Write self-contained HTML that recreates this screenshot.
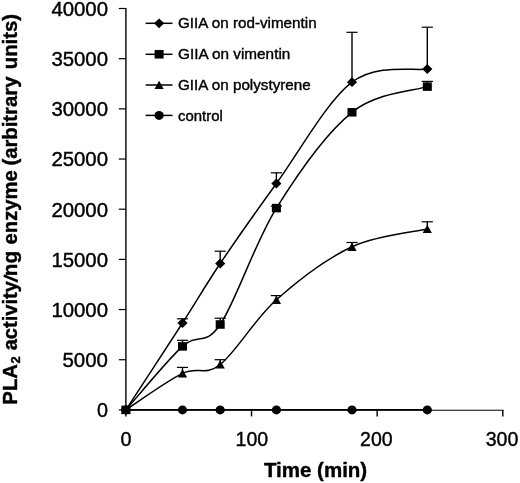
<!DOCTYPE html>
<html lang="en"><head><meta charset="utf-8"><title>PLA2 activity</title>
<style>html,body{margin:0;padding:0;background:#fff}svg{display:block}</style></head>
<body>
<svg width="520" height="483" viewBox="0 0 520 483">
<rect width="520" height="483" fill="#fff"/>
<g stroke="#000" stroke-width="1.40" fill="none">
<path d="M125.90,8.00 V410.40"/>
<path d="M125.90,409.90 V416.40"/>
<path d="M251.53,409.90 V416.40"/>
<path d="M377.17,409.90 V416.40"/>
<path d="M502.80,409.90 V416.40"/>
<path d="M182.50,323.00 V318.80"/>
<path d="M220.20,263.50 V251.20"/>
<path d="M276.40,183.50 V172.80"/>
<path d="M352.00,82.20 V32.30"/>
<path d="M427.30,69.00 V27.20"/>
<path d="M182.50,346.40 V340.30"/>
<path d="M220.20,324.50 V318.20"/>
<path d="M276.40,208.10 V206.20"/>
<path d="M427.30,86.60 V81.40"/>
<path d="M182.50,373.40 V367.40"/>
<path d="M220.20,364.50 V359.70"/>
<path d="M276.40,299.80 V295.60"/>
<path d="M352.00,246.80 V242.50"/>
<path d="M427.30,229.00 V221.80"/>
</g>
<g stroke="#000" stroke-width="1.20" fill="none">
<path stroke-width="1.1" d="M125.90,410.20 H503.50"/>
<path d="M118.80,409.90 H125.90"/>
<path d="M118.80,359.72 H125.90"/>
<path d="M118.80,309.55 H125.90"/>
<path d="M118.80,259.38 H125.90"/>
<path d="M118.80,209.20 H125.90"/>
<path d="M118.80,159.03 H125.90"/>
<path d="M118.80,108.85 H125.90"/>
<path d="M118.80,58.68 H125.90"/>
<path d="M118.80,8.50 H125.90"/>
<path d="M176.90,318.80 H188.10"/>
<path d="M214.60,251.20 H225.80"/>
<path d="M270.80,172.80 H282.00"/>
<path d="M346.40,32.30 H357.60"/>
<path d="M421.70,27.20 H432.90"/>
<path d="M176.90,340.30 H188.10"/>
<path d="M214.60,318.20 H225.80"/>
<path d="M270.80,206.20 H282.00"/>
<path d="M421.70,81.40 H432.90"/>
<path d="M176.90,367.40 H188.10"/>
<path d="M214.60,359.70 H225.80"/>
<path d="M270.80,295.60 H282.00"/>
<path d="M346.40,242.50 H357.60"/>
<path d="M421.70,221.80 H432.90"/>
</g>
<g stroke="#000" stroke-width="1.50" fill="none">
<path d="M125.90,409.90 C135.33,395.42 166.78,347.40 182.50,323.00 C198.22,298.60 204.55,286.75 220.20,263.50 C235.85,240.25 254.43,213.72 276.40,183.50 C298.37,153.28 326.85,101.28 352.00,82.20 C377.15,63.12 414.75,71.20 427.30,69.00"/>
<path d="M125.90,409.90 C135.33,399.32 166.78,360.63 182.50,346.40 C198.22,332.17 204.55,347.55 220.20,324.50 C235.85,301.45 254.43,243.47 276.40,208.10 C298.37,172.73 326.85,132.55 352.00,112.30 C377.15,92.05 414.75,90.88 427.30,86.60"/>
<path d="M125.90,409.90 C135.33,403.82 166.78,380.97 182.50,373.40 C198.22,365.83 204.55,376.77 220.20,364.50 C235.85,352.23 254.43,319.42 276.40,299.80 C298.37,280.18 326.85,258.60 352.00,246.80 C377.15,235.00 414.75,231.97 427.30,229.00"/>
<path d="M125.90,409.80 H427.30"/>
<path d="M145.6,23.30 H172.5"/>
<path d="M145.6,54.30 H172.5"/>
<path d="M145.6,85.00 H172.5"/>
<path d="M145.6,115.40 H172.5"/>
</g>
<g fill="#000">
<path d="M125.90,405.00 L131.00,409.90 L125.90,414.80 L120.80,409.90Z"/>
<path d="M182.50,318.10 L187.60,323.00 L182.50,327.90 L177.40,323.00Z"/>
<path d="M220.20,258.60 L225.30,263.50 L220.20,268.40 L215.10,263.50Z"/>
<path d="M276.40,178.60 L281.50,183.50 L276.40,188.40 L271.30,183.50Z"/>
<path d="M352.00,77.30 L357.10,82.20 L352.00,87.10 L346.90,82.20Z"/>
<path d="M427.30,64.10 L432.40,69.00 L427.30,73.90 L422.20,69.00Z"/>
<rect x="121.40" y="405.65" width="9.00" height="8.50"/>
<rect x="178.00" y="342.15" width="9.00" height="8.50"/>
<rect x="215.70" y="320.25" width="9.00" height="8.50"/>
<rect x="271.90" y="203.85" width="9.00" height="8.50"/>
<rect x="347.50" y="108.05" width="9.00" height="8.50"/>
<rect x="422.80" y="82.35" width="9.00" height="8.50"/>
<path d="M125.90,405.60 L130.50,414.00 L121.30,414.00Z"/>
<path d="M182.50,369.10 L187.10,377.50 L177.90,377.50Z"/>
<path d="M220.20,360.20 L224.80,368.60 L215.60,368.60Z"/>
<path d="M276.40,295.50 L281.00,303.90 L271.80,303.90Z"/>
<path d="M352.00,242.50 L356.60,250.90 L347.40,250.90Z"/>
<path d="M427.30,224.70 L431.90,233.10 L422.70,233.10Z"/>
<ellipse cx="125.90" cy="409.90" rx="4.6" ry="4.5"/>
<ellipse cx="182.50" cy="409.90" rx="4.6" ry="4.5"/>
<ellipse cx="220.20" cy="409.90" rx="4.6" ry="4.5"/>
<ellipse cx="276.40" cy="409.90" rx="4.6" ry="4.5"/>
<ellipse cx="352.00" cy="409.90" rx="4.6" ry="4.5"/>
<ellipse cx="427.30" cy="409.90" rx="4.6" ry="4.5"/>
<path d="M159.10,18.40 L164.20,23.30 L159.10,28.20 L154.00,23.30Z"/>
<rect x="154.60" y="50.05" width="9.00" height="8.50"/>
<path d="M159.10,80.70 L163.70,89.10 L154.50,89.10Z"/>
<ellipse cx="159.10" cy="115.40" rx="4.6" ry="4.5"/>
</g>
<g fill="#000" stroke="#000" stroke-width="0.40" font-family="&quot;Liberation Sans&quot;, Arial, sans-serif">
<text x="108.00" y="417.30" font-size="20.0" text-anchor="end" textLength="11.0" lengthAdjust="spacingAndGlyphs">0</text>
<text x="108.00" y="367.12" font-size="20.0" text-anchor="end" textLength="45.5" lengthAdjust="spacingAndGlyphs">5000</text>
<text x="108.00" y="316.95" font-size="20.0" text-anchor="end" textLength="56.6" lengthAdjust="spacingAndGlyphs">10000</text>
<text x="108.00" y="266.77" font-size="20.0" text-anchor="end" textLength="56.6" lengthAdjust="spacingAndGlyphs">15000</text>
<text x="108.00" y="216.60" font-size="20.0" text-anchor="end" textLength="56.6" lengthAdjust="spacingAndGlyphs">20000</text>
<text x="108.00" y="166.43" font-size="20.0" text-anchor="end" textLength="56.6" lengthAdjust="spacingAndGlyphs">25000</text>
<text x="108.00" y="116.25" font-size="20.0" text-anchor="end" textLength="56.6" lengthAdjust="spacingAndGlyphs">30000</text>
<text x="108.00" y="66.08" font-size="20.0" text-anchor="end" textLength="56.6" lengthAdjust="spacingAndGlyphs">35000</text>
<text x="108.00" y="15.90" font-size="20.0" text-anchor="end" textLength="56.6" lengthAdjust="spacingAndGlyphs">40000</text>
<text x="125.90" y="445.50" font-size="20.0" text-anchor="middle" textLength="11.0" lengthAdjust="spacingAndGlyphs">0</text>
<text x="251.90" y="445.50" font-size="20.0" text-anchor="middle" textLength="32.6" lengthAdjust="spacingAndGlyphs">100</text>
<text x="376.40" y="445.50" font-size="20.0" text-anchor="middle" textLength="32.6" lengthAdjust="spacingAndGlyphs">200</text>
<text x="502.00" y="445.50" font-size="20.0" text-anchor="middle" textLength="32.6" lengthAdjust="spacingAndGlyphs">300</text>
<text x="178.0" y="28.40" font-size="15.1" textLength="138.6" lengthAdjust="spacingAndGlyphs">GIIA on rod-vimentin</text>
<text x="178.0" y="59.40" font-size="15.1" textLength="112.3" lengthAdjust="spacingAndGlyphs">GIIA on vimentin</text>
<text x="178.0" y="90.10" font-size="15.1" textLength="132.7" lengthAdjust="spacingAndGlyphs">GIIA on polystyrene</text>
<text x="178.0" y="120.50" font-size="15.1" textLength="44.8" lengthAdjust="spacingAndGlyphs">control</text>
<text x="263.9" y="477.2" font-size="19.7" font-weight="bold" textLength="103.3" lengthAdjust="spacingAndGlyphs">Time (min)</text>
<text transform="translate(16.9,410) rotate(-90)" font-size="19.6" font-weight="bold" xml:space="preserve" style="white-space:pre"><tspan x="5.39" textLength="40.52" lengthAdjust="spacingAndGlyphs">PLA</tspan><tspan x="46.53" textLength="7.20" lengthAdjust="spacingAndGlyphs" font-size="13.4" dy="3.3">2</tspan><tspan x="54.08" textLength="74.82" lengthAdjust="spacingAndGlyphs" dy="-3.3"> activity</tspan><tspan x="127.4" rotate="12">/</tspan><tspan x="133.81" textLength="25.31" lengthAdjust="spacingAndGlyphs">ng</tspan><tspan x="159.99" textLength="79.68" lengthAdjust="spacingAndGlyphs"> enzyme</tspan><tspan x="238.77" textLength="94.73" lengthAdjust="spacingAndGlyphs"> (arbitrary</tspan><tspan x="335.14" textLength="60.94" lengthAdjust="spacingAndGlyphs"> units)</tspan></text>
</g>
</svg>
</body></html>
